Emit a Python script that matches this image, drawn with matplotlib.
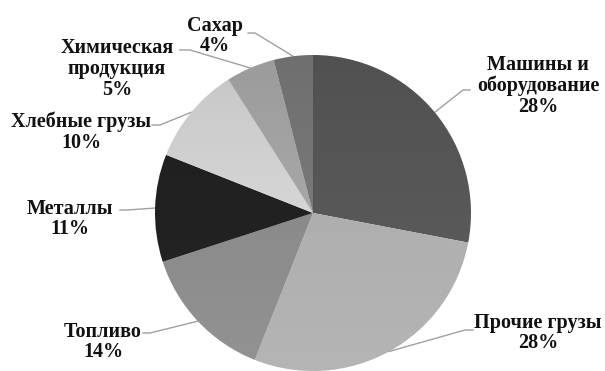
import numpy as np
import matplotlib.pyplot as plt
from matplotlib.patches import Circle

labels = ['Машины и\nоборудование', 'Прочие грузы', 'Топливо', 'Металлы',
          'Хлебные грузы', 'Химическая\nпродукция', 'Сахар']
shares = [28, 28, 14, 11, 10, 5, 4]
colors = ['#595959', '#b0b0b0', '#8c8c8c', '#222222', '#d9d9d9', '#aaaaaa', '#7a7a7a']

# label text centre, elbow point and end point of the leader line (pixels, y down)
label_pos = [(538, 86), (538, 333), (103, 342), (70, 219), (81, 132), (117, 69), (215, 36)]
elbows = [(463, 90), (465, 330), (150, 333), (127, 210), (160, 125), (190, 50), (255, 33)]
ends = [(470, 90), (473, 330), (143, 333), (120, 210), (152, 125), (180, 50), (248, 33)]

W, H = 605, 371
fig = plt.figure(figsize=(6.05, 3.71), dpi=100)
ax = fig.add_axes([0, 0, 1, 1])

cx, cy, r = 313, H - 213, 158
wedges, _ = ax.pie(shares, colors=colors, startangle=90, counterclock=False,
                   center=(cx, cy), radius=r, frame=True,
                   wedgeprops=dict(linewidth=0))
ax.set_xlim(0, W)
ax.set_ylim(0, H)
ax.set_aspect('equal')
ax.axis('off')

# soft vertical shading like the original
grad = np.zeros((100, 2, 4))
t = np.linspace(0, 1, 100)[:, None]
grad[..., :3] = np.where(t < 0.4, 1.0, 0.0)[..., None]
grad[..., 3] = np.where(t < 0.4, 0.06 * (0.4 - t) / 0.4, 0.09 * (t - 0.4) / 0.6)
im = ax.imshow(grad, extent=(cx - r, cx + r, cy + r, cy - r), origin='upper',
               aspect='auto', zorder=2)
im.set_clip_path(Circle((cx, cy), r, transform=ax.transData))
ax.set_xlim(0, W)
ax.set_ylim(0, H)

for w, lab, s, tp, el, en in zip(wedges, labels, shares, label_pos, elbows, ends):
    mid = np.deg2rad((w.theta1 + w.theta2) / 2)
    ex, ey = cx + r * np.cos(mid), cy + r * np.sin(mid)
    ax.plot([ex, el[0], en[0]], [ey, H - el[1], H - en[1]],
            color='#a0a0a0', lw=1, zorder=0.5)
    ax.text(tp[0], H - tp[1], f'{lab}\n{s}%', ha='center', va='center',
            fontsize=14.5, fontweight='bold', family='Liberation Serif',
            linespacing=1.05, color='#111111')

fig.savefig('out.png', dpi=100)
